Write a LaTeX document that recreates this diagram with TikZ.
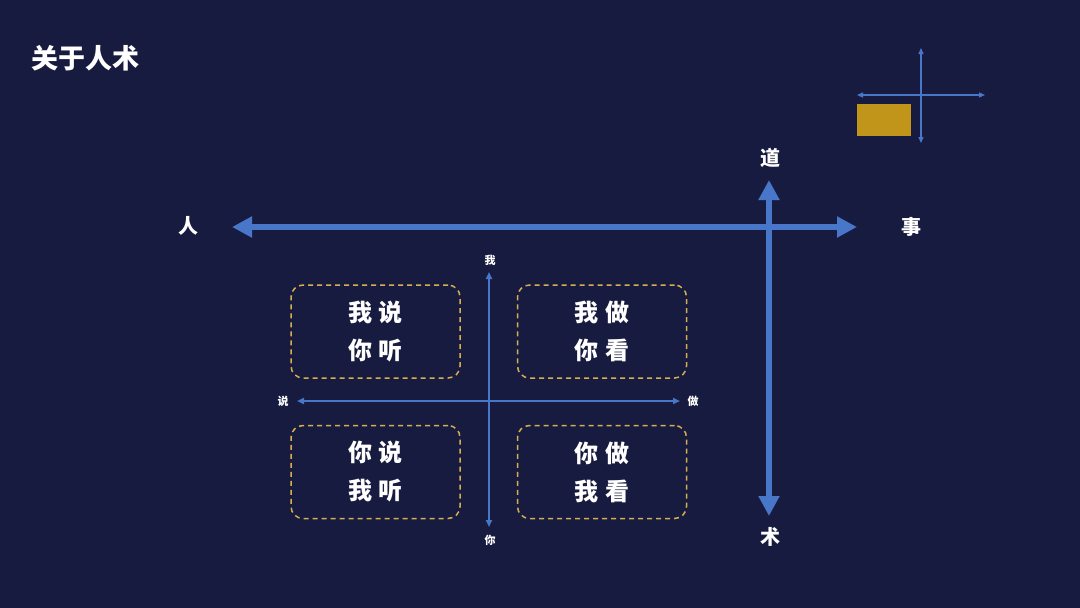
\documentclass[tikz,border=0pt]{standalone}
\usepackage{fontspec}
\usepackage{xcolor}
\usetikzlibrary{arrows.meta}
\newfontfamily\cjk{Noto Sans CJK SC}
\definecolor{bgnavy}{RGB}{24,27,64}
\definecolor{axisblue}{RGB}{72,118,200}
\definecolor{boxgold}{RGB}{214,176,80}
\definecolor{rectgold}{RGB}{192,149,26}
\newcommand{\pairgap}{\hspace{7pt}}

\begin{document}
\begin{tikzpicture}[x=1pt, y=-1pt,
    every node/.style = {text=white, inner sep=0pt, font=\cjk\bfseries},
    bigaxis/.style = {draw=axisblue, line width=6pt,
      {Triangle[length=20pt, width=20pt]}-{Triangle[length=20pt, width=20pt]}},
    smallaxis/.style = {draw=axisblue, line width=1.8pt,
      {Triangle[length=7pt, width=6pt]}-{Triangle[length=7pt, width=6pt]}},
    iconaxis/.style = {draw=axisblue, line width=1.3pt,
      {Triangle[length=6pt, width=5pt]}-{Triangle[length=6pt, width=5pt]}},
    quadbox/.style = {draw=boxgold, line width=1.5pt, rounded corners=12pt,
      dash pattern=on 5pt off 4pt, minimum width=169pt, minimum height=93pt,
      align=center, font=\cjk\bfseries\fontsize{24}{38}\selectfont},
    bigtag/.style = {font=\cjk\bfseries\fontsize{20}{22}\selectfont},
    smalltag/.style = {font=\cjk\bfseries\fontsize{11}{13}\selectfont}]
    \fill[bgnavy] (0,0) rectangle (1080,608);
    \useasboundingbox (0,0) rectangle (1080,608);

    % title
    \node[anchor=west, font=\cjk\bfseries\fontsize{27}{30}\selectfont] (title) at (31,58) {关于人术};

    % icon, top right
    \fill[rectgold] (857,104) rectangle (911,136);
    \coordinate (iconT) at (921,48);
    \coordinate (iconB) at (921,143);
    \coordinate (iconL) at (857,95);
    \coordinate (iconR) at (985,95);
    \draw[iconaxis] (iconT) -- (iconB);
    \draw[iconaxis] (iconL) -- (iconR);

    % big axes
    \node[bigtag] (ren) at (188,226) {人};
    \node[bigtag] (shi) at (911,227) {事};
    \node[bigtag] (dao) at (770,158) {道};
    \node[bigtag] (shu) at (770,537) {术};
    \coordinate (bigL) at (232,227);
    \coordinate (bigR) at (857,227);
    \coordinate (bigT) at (769,180);
    \coordinate (bigB) at (769,516);
    \draw[bigaxis] (bigL) -- (bigR);
    \draw[bigaxis] (bigT) -- (bigB);

    % small axes
    \node[smalltag] (wo) at (490,260) {我};
    \node[smalltag] (ni) at (490,540) {你};
    \node[smalltag] (shuo) at (283,401) {说};
    \node[smalltag] (zuo) at (693,401) {做};
    \coordinate (smT) at (489,272);
    \coordinate (smB) at (489,527);
    \coordinate (smL) at (297,401);
    \coordinate (smR) at (680,401);
    \draw[smallaxis] (smT) -- (smB);
    \draw[smallaxis] (smL) -- (smR);

    % quadrants
    \node[quadbox] (ws) at (375.5,331.5) {我\pairgap 说\\你\pairgap 听};
    \node[quadbox] (wz) at (602,331.5) {我\pairgap 做\\你\pairgap 看};
    \node[quadbox] (ns) at (375.5,472) {你\pairgap 说\\我\pairgap 听};
    \node[quadbox] (nz) at (602,472) {你\pairgap 做\\我\pairgap 看};
\end{tikzpicture}
\end{document}
